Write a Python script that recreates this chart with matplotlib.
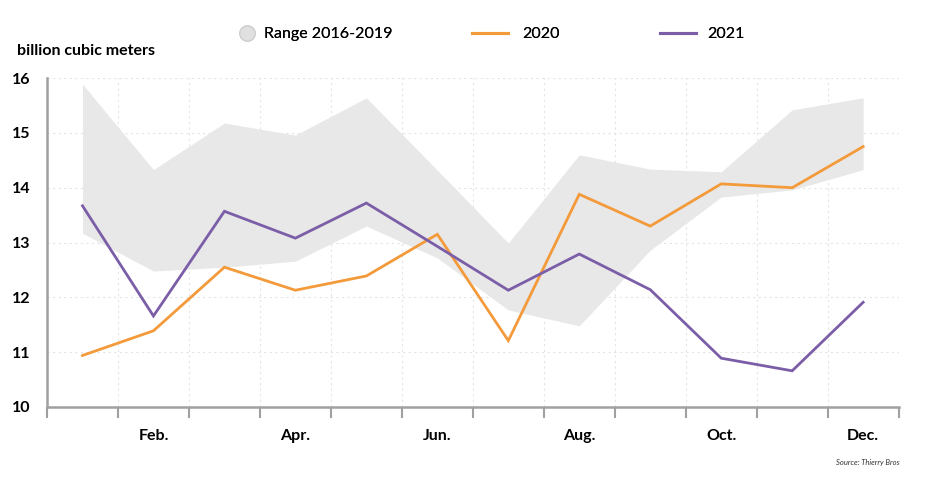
import numpy as np
import matplotlib
matplotlib.use("Agg")
from matplotlib import pyplot as plt
from matplotlib.lines import Line2D

plt.rcParams['font.family'] = ['Lato', 'DejaVu Sans']

months = ["Jan.", "Feb.", "Mar.", "Apr.", "May", "Jun.", "Jul.", "Aug.", "Sep.", "Oct.", "Nov.", "Dec."]
range_low = [13.17, 12.48, 12.55, 12.66, 13.30, 12.72, 11.77, 11.48, 12.86, 13.83, 13.96, 14.33]
range_high = [15.89, 14.33, 15.18, 14.96, 15.64, 14.32, 12.99, 14.60, 14.34, 14.29, 15.42, 15.64]
y2020 = [10.94, 11.39, 12.55, 12.13, 12.39, 13.15, 11.21, 13.88, 13.30, 14.07, 14.00, 14.75]
y2021 = [13.67, 11.66, 13.57, 13.08, 13.72, 12.93, 12.13, 12.79, 12.14, 10.89, 10.66, 11.91]

c_range = "#e8e8e8"
c_2020 = "#f39a3b"
c_2021 = "#7b5ea7"
c_axis = "#a0a0a0"

fig = plt.figure(figsize=(9.4, 4.88), dpi=100)
ax = fig.add_axes([0.05, 0.166, 0.906, 0.674])

x = np.arange(len(months)) + 0.5
ax.fill_between(x, range_low, range_high, color=c_range, lw=0, zorder=1)
ax.plot(x, y2020, color=c_2020, lw=2.0, zorder=3, solid_joinstyle='miter')
ax.plot(x, y2021, color=c_2021, lw=2.0, zorder=3, solid_joinstyle='miter')

ax.set_xlim(0, 12)
ax.set_ylim(10, 16)

# month boundaries as major ticks, every other month labelled in between
ax.set_xticks(np.arange(0, 13))
ax.set_xticklabels([])
ax.set_xticks(x[1::2], minor=True)
ax.set_xticklabels(months[1::2], minor=True)
ax.tick_params(axis='x', which='major', length=8, width=1.5, color=c_axis, direction='out')
ax.tick_params(axis='x', which='minor', length=0, pad=16, labelsize=11.5)
for lab in ax.get_xticklabels(minor=True):
    lab.set_fontweight('bold')

ax.set_yticks(np.arange(10, 17))
ax.tick_params(axis='y', length=0, pad=12, labelsize=11.5)
for lab in ax.get_yticklabels():
    lab.set_fontweight('bold')

ax.grid(True, which='major', color="#e4e4e4", lw=0.8, ls=(0, (2, 3)), zorder=0)
ax.set_axisbelow(True)

for side in ['top', 'right']:
    ax.spines[side].set_visible(False)
for side in ['left', 'bottom']:
    ax.spines[side].set_color(c_axis)
    ax.spines[side].set_linewidth(1.8)

fig.text(0.018, 0.895, "billion cubic meters", fontsize=11.5, fontweight='bold', va='center', ha='left')
fig.text(0.957, 0.052, "Source: Thierry Bros", fontsize=5.5, style='italic', color="#333333",
         ha='right', va='center')

# three separate legend entries so each sits where the original has it
entries = [
    (Line2D([], [], ls='none', marker='o', markersize=11, markerfacecolor="#e0e0e0",
            markeredgecolor="#d0d0d0"), "Range 2016-2019", 0.254, 1.0, 0.6),
    (Line2D([], [], color=c_2020, lw=2.2), "2020", 0.502, 2.25, 0.88),
    (Line2D([], [], color=c_2021, lw=2.2), "2021", 0.702, 2.25, 0.7),
]
for handle, label, xpos, hlen, hpad in entries:
    leg = fig.legend([handle], [label], loc='center left', bbox_to_anchor=(xpos, 0.93),
                     frameon=False, fontsize=11.5, borderpad=0, borderaxespad=0,
                     handlelength=hlen, handletextpad=hpad)
    fig.add_artist(leg)

fig.savefig("out.png", dpi=100)
